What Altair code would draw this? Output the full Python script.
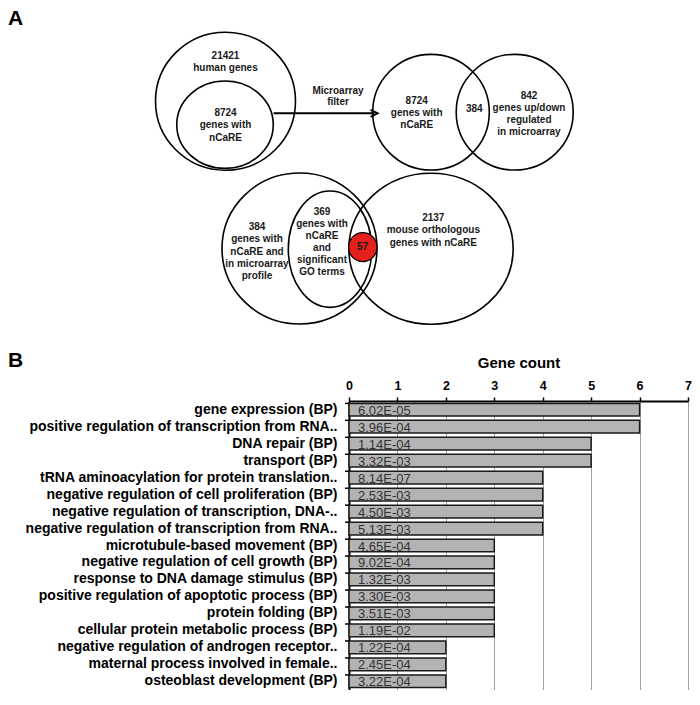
import altair as alt
import pandas as pd

# ------------------------------------------------------------------
# Data: panel B (GO terms)
# ------------------------------------------------------------------
categories = [
    "gene expression (BP)",
    "positive regulation of transcription from RNA..",
    "DNA repair (BP)",
    "transport (BP)",
    "tRNA aminoacylation for protein translation..",
    "negative regulation of cell proliferation (BP)",
    "negative regulation of transcription, DNA-..",
    "negative regulation of transcription from RNA..",
    "microtubule-based movement (BP)",
    "negative regulation of cell growth (BP)",
    "response to DNA damage stimulus (BP)",
    "positive regulation of apoptotic process (BP)",
    "protein folding (BP)",
    "cellular protein metabolic process (BP)",
    "negative regulation of androgen receptor..",
    "maternal process involved in female..",
    "osteoblast development (BP)",
]
gene_counts = [6, 6, 5, 5, 4, 4, 4, 4, 3, 3, 3, 3, 3, 3, 2, 2, 2]
p_values = [
    "6.02E-05", "3.96E-04", "1.14E-04", "3.32E-03", "8.14E-07", "2.53E-03",
    "4.50E-03", "5.13E-03", "4.65E-04", "9.02E-04", "1.32E-03", "3.30E-03",
    "3.51E-03", "1.19E-02", "1.22E-04", "2.45E-04", "3.22E-04",
]
count_ticks = [0, 1, 2, 3, 4, 5, 6, 7]
axis_title = "Gene count"

# ------------------------------------------------------------------
# Data: panel A (Venn diagrams)
# ------------------------------------------------------------------
venn_numbers = ["21421", "8724", "8724", "384", "842", "384", "369", "57", "2137"]
venn_captions = [
    ["human genes"],
    ["genes with", "nCaRE"],
    ["genes with", "nCaRE"],
    [],
    ["genes up/down", "regulated", "in microarray"],
    ["genes with", "nCaRE and", "in microarray", "profile"],
    ["genes with", "nCaRE", "and", "significant", "GO terms"],
    [],
    ["mouse orthologous", "genes with nCaRE"],
]
arrow_caption = ["Microarray", "filter"]
panel_letters = ["A", "B"]

# ------------------------------------------------------------------
# Layout (page pixel coordinates) -- not data
# ------------------------------------------------------------------
PX0, PX1 = 349, 688          # panel B plot x-extent on the page
A_TOP, A_BOTTOM = 8, 350      # panel A vertical page extent
B_HEIGHT = 289
LINE_H = 12.1
FONT = "Liberation Sans, Arial, Helvetica, sans-serif"

# block anchors (x, y of first line)
block_pos = [(225.5, 55.7), (225.5, 113.3), (416.7, 101.0), (474.3, 109.0),
             (529.0, 95.7), (257.0, 227.3), (322.0, 211.7), (362.5, 246.6),
             (433.3, 218.3)]
arrow_caption_pos = (338.0, 90.7)
# outline shapes: (cx, cy, width, height)
outline_shapes = [
    (225.5, 101.2, 140.0, 138.0),
    (225.0, 124.7, 96.5, 87.3),
    (431.0, 112.2, 116.6, 115.7),
    (514.7, 112.2, 117.0, 115.7),
    (299.5, 248.5, 155.0, 151.0),
    (330.0, 249.2, 83.4, 116.3),
    (431.0, 248.8, 164.3, 151.0),
]
red_shape = (362.8, 247.2, 28.5, 29.0)
arrow_seg = (273.5, 374.0, 113.3)


def ellipse_path(k):
    c = 0.5523
    return (f"M1,0 C1,{c*k:.4f} {c},{k:.4f} 0,{k:.4f} "
            f"C{-c},{k:.4f} -1,{c*k:.4f} -1,0 "
            f"C-1,{-c*k:.4f} {-c},{-k:.4f} 0,{-k:.4f} "
            f"C{c},{-k:.4f} 1,{-c*k:.4f} 1,0 Z")


shape_rows = [dict(x=cx, y=cy, path=ellipse_path(h / w), area=w * w)
              for (cx, cy, w, h) in outline_shapes]
red_rows = [dict(x=red_shape[0], y=red_shape[1],
                 path=ellipse_path(red_shape[3] / red_shape[2]),
                 area=red_shape[2] ** 2)]

text_rows = []
for (bx, by), num, caps in zip(block_pos, venn_numbers, venn_captions):
    for i, line in enumerate([num] + caps):
        text_rows.append(dict(x=bx, y=by + i * LINE_H, t=line))
for i, line in enumerate(arrow_caption):
    text_rows.append(dict(x=arrow_caption_pos[0], y=arrow_caption_pos[1] + i * 11.6, t=line))

xA = lambda f: alt.X(f, type="quantitative",
                     scale=alt.Scale(domain=[PX0, PX1], nice=False, zero=False), axis=None)
yA = lambda f: alt.Y(f, type="quantitative",
                     scale=alt.Scale(domain=[A_TOP, A_BOTTOM], nice=False, zero=False, reverse=True),
                     axis=None)

outlines = alt.Chart(pd.DataFrame(shape_rows)).mark_point(
    filled=False, color="black", strokeWidth=1.6, opacity=1
).encode(x=xA("x"), y=yA("y"),
         shape=alt.Shape("path:N", scale=None),
         size=alt.Size("area:Q", scale=None))

red = alt.Chart(pd.DataFrame(red_rows)).mark_point(
    filled=True, fill="#e3201b", stroke="black", strokeWidth=1.2, opacity=1
).encode(x=xA("x"), y=yA("y"),
         shape=alt.Shape("path:N", scale=None),
         size=alt.Size("area:Q", scale=None))

arrow_df = pd.DataFrame([dict(x1=arrow_seg[0], x2=arrow_seg[1], y=arrow_seg[2])])
arrow_line = alt.Chart(arrow_df).mark_rule(color="black", strokeWidth=2).encode(
    x=xA("x1"), x2="x2:Q", y=yA("y"))
arrow_head = alt.Chart(arrow_df).mark_point(
    shape="M-1,-1 L1,0 L-1,1", filled=False, color="black", strokeWidth=2, size=49, opacity=1
).encode(x=xA("x2"), y=yA("y"))

venn_text = alt.Chart(pd.DataFrame(text_rows)).mark_text(
    font=FONT, fontSize=10, fontWeight="bold", color="#1a1a1a",
    align="center", baseline="middle"
).encode(x=xA("x"), y=yA("y"), text="t:N")

letter_a = alt.Chart(pd.DataFrame([dict(x=8, y=25, t=panel_letters[0])])).mark_text(
    font=FONT, fontSize=21, fontWeight="bold", color="black",
    align="left", baseline="alphabetic"
).encode(x=xA("x"), y=yA("y"), text="t:N")

panel_a = alt.layer(outlines, red, arrow_line, arrow_head, venn_text, letter_a).properties(
    width=PX1 - PX0, height=A_BOTTOM - A_TOP)

# ------------------------------------------------------------------
# Panel B
# ------------------------------------------------------------------
df_b = pd.DataFrame(dict(category=categories, count=gene_counts, p=p_values))
y_enc = alt.Y("category:N", sort=categories,
              scale=alt.Scale(paddingInner=0.25, paddingOuter=0.14),
              axis=alt.Axis(title=None, ticks=False, labelFont=FONT, labelFontSize=14,
                            labelFontWeight="bold", labelColor="black", labelPadding=12,
                            labelLimit=500, domainColor="black", domainWidth=2))
x_enc = alt.X("count:Q", scale=alt.Scale(domain=[0, 7], nice=False),
              axis=alt.Axis(orient="top", values=count_ticks, title=axis_title,
                            titleFont=FONT, titleFontSize=15, titleFontWeight="bold",
                            titleColor="black", titlePadding=9,
                            labelFont=FONT, labelFontSize=12.5, labelFontWeight="bold",
                            labelColor="black", labelFlush=False, labelPadding=5,
                            tickColor="black", tickSize=4, tickWidth=1.5,
                            domainColor="black", domainWidth=2,
                            grid=True, gridColor="#a0a0a0", gridWidth=1))

bars = alt.Chart(df_b).mark_bar(fill="#b3b3b3", stroke="#1a1a1a", strokeWidth=1.5).encode(
    x=x_enc, y=y_enc)
ptext = alt.Chart(df_b).mark_text(
    font=FONT, fontSize=13, color="#333333", align="left", baseline="middle", dx=9, dy=1
).encode(x=alt.value(0), y=alt.Y("category:N", sort=categories), text="p:N")
band_ticks = alt.Chart(df_b).mark_rule(color="black", strokeWidth=1.5).encode(
    y=alt.Y("category:N", sort=categories, bandPosition=0),
    x=alt.value(-4), x2=alt.value(0))
letter_b = alt.Chart(pd.DataFrame([dict(t=panel_letters[1])])).mark_text(
    font=FONT, fontSize=21, fontWeight="bold", color="black",
    align="left", baseline="alphabetic"
).encode(x=alt.value(8 - PX0), y=alt.value(-34), text="t:N")

panel_b = alt.layer(bars, ptext, band_ticks, letter_b).properties(
    width=PX1 - PX0, height=B_HEIGHT)

chart = alt.vconcat(panel_a, panel_b, spacing=0).properties(
    padding=0
).configure_view(stroke=None)

chart.save("out.html", embed_options={"renderer": "svg", "actions": False})
